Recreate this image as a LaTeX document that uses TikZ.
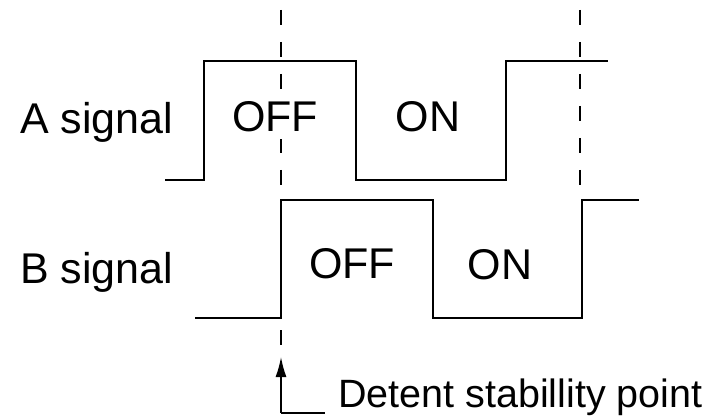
\documentclass[tikz,border=0pt]{standalone}
\usepackage{fontspec}
\setmainfont{Liberation Sans}
\usetikzlibrary{arrows.meta}

\begin{document}
\begin{tikzpicture}[x=1pt,y=-1pt]
                      \tikzstyle{wave}=[line width=2.4pt,line join=miter]
                      \tikzstyle{marker}=[line width=2pt,dash pattern=on 15pt off 17pt]
                      \tikzstyle{label}=[anchor=base,inner sep=0pt,font=\fontsize{43}{50}\selectfont]
                      \useasboundingbox (0,0) rectangle (715,417);
                      \draw[marker] (281,10) -- (281,348);
                      \draw[marker] (580,10) -- (580,188);
                      \node [label, anchor=base west] (asig) at (20,134) {A signal};
                      \node [label, anchor=base west] (bsig) at (20,283) {B signal};
                      \node [label, fill=white, inner xsep=2pt, inner ysep=7pt] (aoff) at (275,132) {OFF};
                      \node [label] (aon) at (428,132) {ON};
                      \node [label] (boff) at (352,278) {OFF};
                      \node [label] (bon) at (500,279) {ON};
                      \node [label, anchor=base west, font=\fontsize{39.5}{46}\selectfont] (detent) at (338,407) {Detent stabillity point};
                      \draw[wave] (165,180) -- (204,180) -- (204,61) -- (356,61) -- (356,180) -- (506,180) -- (506,61) -- (608,61);
                      \draw[wave] (195,318) -- (281,318) -- (281,200) -- (433,200) -- (433,318) -- (582,318) -- (582,200) -- (639,200);
                      \coordinate (tip) at (281,357);
                      \coordinate (corner) at (281,413);
                      \draw[line width=1.6pt,-{Latex[length=20pt,width=11pt]}] (corner) -- (tip);
                      \draw[line width=1.6pt] (corner) -- ([xshift=-13pt]detent.west |- corner);
                  \end{tikzpicture}
\end{document}
